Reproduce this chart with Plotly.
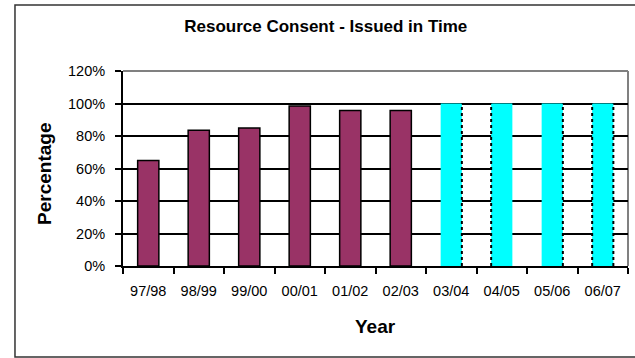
import plotly.graph_objects as go

# ---- data ----
years = ["97/98", "98/99", "99/00", "00/01", "01/02", "02/03",
         "03/04", "04/05", "05/06", "06/07"]
actual_years = ["97/98", "98/99", "99/00", "00/01", "01/02", "02/03"]
actual_values = [0.65, 0.835, 0.85, 0.985, 0.957, 0.957]
target_years = ["03/04", "04/05", "05/06", "06/07"]
target_values = [1.0, 1.0, 1.0, 1.0]
y_ticks = [0, 0.2, 0.4, 0.6, 0.8, 1.0, 1.2]

# styling
FONT = "Arial, Liberation Sans, sans-serif"
MAROON = "#993366"
CYAN = "#00FFFF"
BAR_W = 0.42
# which sides of the projected bars carry a black dotted edge
dotted_sides = ["R", "L", "R", "LR"]

fig = go.Figure()
fig.add_trace(go.Bar(
    x=actual_years, y=actual_values, width=BAR_W,
    marker=dict(color=MAROON, line=dict(color="black", width=1.5)),
    showlegend=False,
))
fig.add_trace(go.Bar(
    x=target_years, y=target_values, width=BAR_W,
    marker=dict(color=CYAN, line=dict(color=CYAN, width=0)),
    showlegend=False,
))

shapes = []
for yr, val, sides in zip(target_years, target_values, dotted_sides):
    i = years.index(yr)
    for s in sides:
        xx = i - BAR_W / 2 if s == "L" else i + BAR_W / 2
        shapes.append(dict(type="line", xref="x", yref="y",
                           x0=xx, x1=xx, y0=0, y1=val,
                           line=dict(color="black", width=2, dash="dot"),
                           layer="above"))

# plot-area top/right border (grey)
shapes.append(dict(type="line", xref="paper", yref="paper", x0=0, x1=1, y0=1, y1=1,
                   line=dict(color="#808080", width=2), layer="below"))
shapes.append(dict(type="line", xref="paper", yref="paper", x0=1, x1=1, y0=0, y1=1,
                   line=dict(color="#808080", width=2), layer="below"))
# outer chart frame
shapes.append(dict(type="rect", xref="paper", yref="paper",
                   x0=-0.2139, x1=1.2, y0=-0.467, y1=1.338,
                   line=dict(color="#333333", width=1.5), layer="below"))

fig.update_layout(
    width=635, height=358,
    margin=dict(l=123, r=7, t=71, b=92),
    paper_bgcolor="white", plot_bgcolor="white",
    barmode="overlay",
    font=dict(family=FONT, color="black", size=14.5),
    shapes=shapes,
    title=dict(text="<b>Resource Consent - Issued in Time</b>",
               font=dict(family=FONT, size=17, color="black"),
               x=0.513, xanchor="center", y=0.927, yanchor="middle"),
    xaxis=dict(
        type="category", categoryorder="array", categoryarray=years,
        range=[-0.5, len(years) - 0.5],
        showline=True, linecolor="black", linewidth=2,
        ticks="outside", tickson="boundaries", ticklen=6, tickwidth=1.5,
        tickcolor="black", showgrid=False,
        tickfont=dict(family=FONT, size=14.5, color="black"),
        ticklabelstandoff=11,
    ),
    yaxis=dict(
        range=[0, 1.2], tickvals=y_ticks, tickformat=".0%",
        showline=True, linecolor="black", linewidth=2,
        ticks="outside", ticklen=6, tickwidth=1.5, tickcolor="black",
        showgrid=True, gridcolor="black", gridwidth=1.5,
        zeroline=False,
        tickfont=dict(family=FONT, size=14.5, color="black"),
        ticklabelstandoff=7,
    ),
    annotations=[
        dict(text="<b>Year</b>", xref="paper", yref="paper",
             x=0.5, y=-0.308, xanchor="center", yanchor="middle",
             showarrow=False, font=dict(family=FONT, size=19, color="black")),
        dict(text="<b>Percentage</b>", xref="paper", yref="paper",
             x=-0.1545, y=0.472, xanchor="center", yanchor="middle",
             textangle=-90, showarrow=False,
             font=dict(family=FONT, size=19, color="black")),
    ],
)

fig.write_html("out.html")
